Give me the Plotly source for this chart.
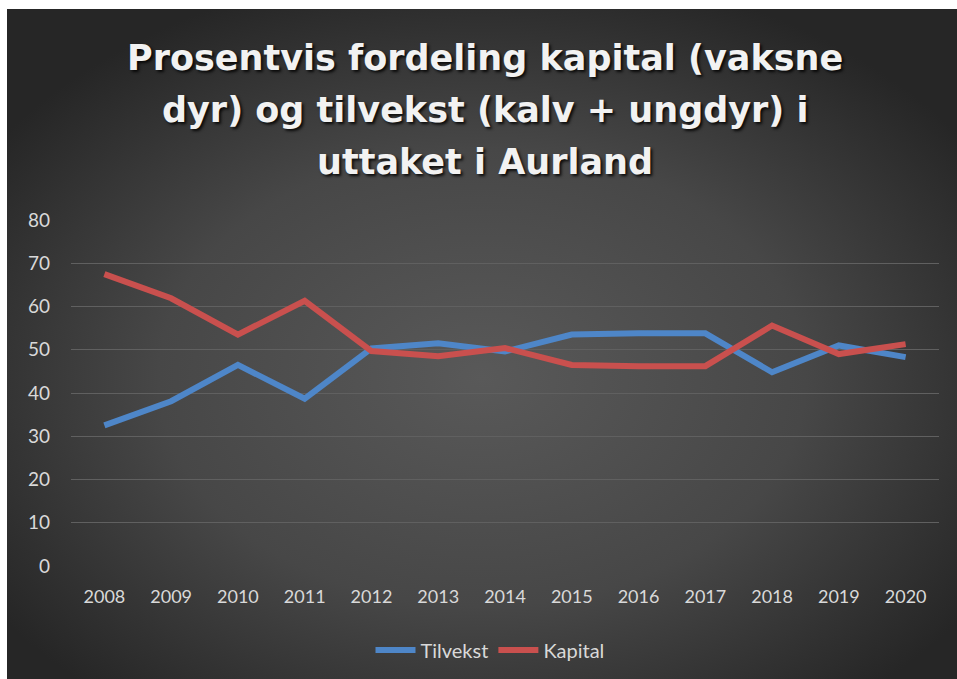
import plotly.graph_objects as go

years = ["2008", "2009", "2010", "2011", "2012", "2013", "2014",
         "2015", "2016", "2017", "2018", "2019", "2020"]
tilvekst = [32.5, 38.1, 46.5, 38.7, 50.3, 51.5, 49.6, 53.5, 53.8, 53.8, 44.8, 51.0, 48.3]
kapital = [67.5, 61.9, 53.5, 61.3, 49.7, 48.5, 50.4, 46.5, 46.2, 46.2, 55.6, 49.0, 51.3]
y_ticks = [0, 10, 20, 30, 40, 50, 60, 70, 80]

title_lines = ["Prosentvis fordeling kapital (vaksne",
               "dyr) og tilvekst (kalv + ungdyr) i",
               "uttaket i Aurland"]

W, H = 957, 679
L, R, T, B = 71, 18, 220, 113
pw, ph = W - L - R, H - T - B


def py(Y):
    return (H - B - Y) / ph


def px(X):
    return (X - L) / pw


svg = ("<svg xmlns='http://www.w3.org/2000/svg' width='950' height='670' viewBox='0 0 950 670' preserveAspectRatio='none'>"
       "<defs><radialGradient id='g' cx='0.5' cy='0.55' r='0.62'>"
       "<stop offset='0' stop-color='#595959'/>"
       "<stop offset='0.55' stop-color='#474747'/>"
       "<stop offset='1' stop-color='#262626'/>"
       "</radialGradient></defs>"
       "<rect width='950' height='670' fill='url(#g)'/></svg>")
enc = (svg.replace("%", "%25").replace("#", "%23").replace("<", "%3C").replace(">", "%3E")
       .replace(" ", "%20").replace("'", "%27").replace("=", "%3D").replace(":", "%3A")
       .replace("/", "%2F").replace("(", "%28").replace(")", "%29"))
bg_src = "data:image/svg+xml;charset=utf-8," + enc

fig = go.Figure()
fig.add_trace(go.Scatter(x=years, y=tilvekst, name="Tilvekst", mode="lines",
                         line=dict(color="#4e86c8", width=6)))
fig.add_trace(go.Scatter(x=years, y=kapital, name="Kapital", mode="lines",
                         line=dict(color="#c9504e", width=6)))

annotations = []
for text, yc in zip(title_lines, [58, 110, 162]):
    annotations.append(dict(text=text, xref="paper", yref="paper",
                            x=px(485), y=py(yc), xanchor="center", yanchor="middle",
                            showarrow=False,
                            font=dict(family="DejaVu Sans", size=35, color="#f2f2f2",
                                      weight="bold",
                                      shadow="2px 2px 3px rgba(0,0,0,0.85)")))

fig.update_layout(
    width=W, height=H,
    margin=dict(l=L, r=R, t=T, b=B),
    paper_bgcolor="white",
    plot_bgcolor="rgba(0,0,0,0)",
    images=[dict(source=bg_src, xref="paper", yref="paper",
                 x=px(7), y=py(9),
                 sizex=(W - 7) / pw, sizey=(H - 9) / ph,
                 xanchor="left", yanchor="top", sizing="stretch", layer="below")],
    annotations=annotations,
    xaxis=dict(type="category", range=[-0.5, len(years) - 0.5],
               showgrid=False, showline=False, zeroline=False,
               tickfont=dict(family="Lato", size=18, color="#d9d9d9"),
               ticks="", ticklabelstandoff=18),
    yaxis=dict(range=[0, 80], tickvals=y_ticks, showgrid=True, gridcolor="#606060",
               gridwidth=1, zeroline=False, showline=False,
               tickfont=dict(family="Lato", size=19, color="#d9d9d9"),
               ticks="", ticklabelstandoff=20),
    legend=dict(orientation="h", x=490 / W, xref="container", xanchor="center",
                y=(H - 650) / H, yref="container", yanchor="middle",
                font=dict(family="Lato", size=20, color="#d9d9d9"),
                bgcolor="rgba(0,0,0,0)", itemwidth=40),
    showlegend=True,
)

fig.write_html("out.html", config={"displayModeBar": False},
               post_script="document.body.style.margin='0';document.body.style.overflow='hidden';")
